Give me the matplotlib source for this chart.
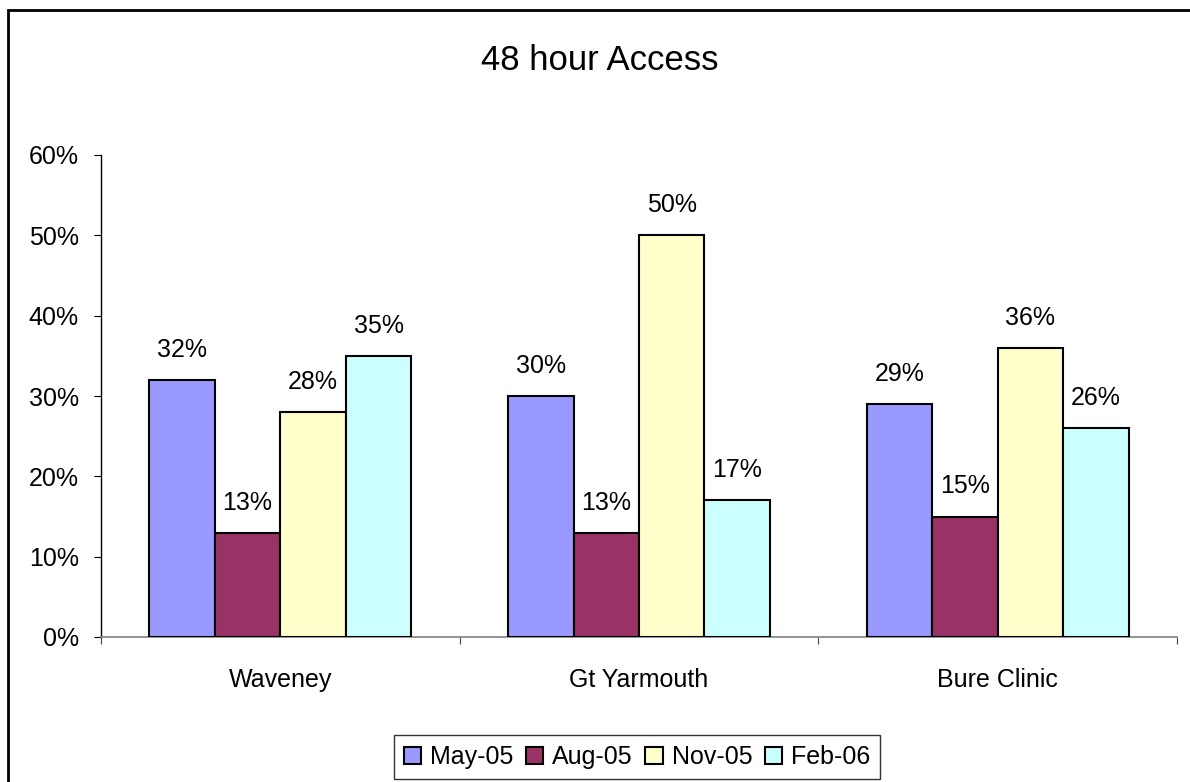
import numpy as np
import matplotlib
matplotlib.use('Agg')
import matplotlib.pyplot as plt
from matplotlib.patches import Rectangle

plt.rcParams['font.family'] = ['Liberation Sans', 'DejaVu Sans']

categories = ['Waveney', 'Gt Yarmouth', 'Bure Clinic']
series = ['May-05', 'Aug-05', 'Nov-05', 'Feb-06']
values = [
    [32, 30, 29],   # May-05
    [13, 13, 15],   # Aug-05
    [28, 50, 36],   # Nov-05
    [35, 17, 26],   # Feb-06
]
colors = ['#9999FF', '#993366', '#FFFFCC', '#CCFFFF']
yticks = [0, 10, 20, 30, 40, 50, 60]

fig = plt.figure(figsize=(11.9, 7.82), dpi=100)
W, H = 1190, 782
ax = fig.add_axes([101 / W, 1 - 637 / H, (1177 - 101) / W, (637 - 155) / H])

# outer chart border (only top and left are in frame)
fig.patches.append(Rectangle((8 / W, -0.1), 1.2, 1 - 10 / H + 0.1, transform=fig.transFigure,
                             fill=False, edgecolor='black', linewidth=2))

fs = 18
x = np.arange(len(categories))
w = 0.1826
for i, (name, vals, c) in enumerate(zip(series, values, colors)):
    pos = x + (i - 1.5) * w
    ax.bar(pos, vals, width=w, color=c, edgecolor='black', linewidth=1.5, label=name, zorder=3)
    for p, v in zip(pos, vals):
        ax.annotate(f'{v}%', (p, v), xytext=(0, 13), textcoords='offset points',
                    ha='center', va='bottom', fontsize=fs)

ax.set_xlim(-0.5, 2.5)
ax.set_ylim(0, 60)
ax.set_yticks(yticks)
ax.set_yticklabels([f'{t}%' for t in yticks], fontsize=fs)
ax.set_xticks([-0.5, 0.5, 1.5, 2.5])
ax.set_xticklabels([])
ax.set_xticks(x, minor=True)
ax.set_xticklabels(categories, minor=True, fontsize=fs)
ax.tick_params(axis='x', which='minor', length=0, pad=22)
ax.tick_params(axis='x', which='major', length=5, color='#444444', direction='out')
ax.tick_params(axis='y', length=5, direction='out', pad=11)

ax.spines['top'].set_visible(False)
ax.spines['right'].set_visible(False)
ax.spines['bottom'].set_color('#808080')
ax.spines['bottom'].set_linewidth(1.2)
ax.spines['left'].set_linewidth(1.0)

fig.text(600 / W, 1 - 60 / H, '48 hour Access', ha='center', va='center', fontsize=25)

leg = fig.legend(loc='center', bbox_to_anchor=(637 / W, 1 - 757 / H), ncol=4, fontsize=fs,
                 frameon=True, fancybox=False, edgecolor='black', handlelength=0.7,
                 handleheight=0.7, handletextpad=0.35, columnspacing=0.5, borderpad=0.4)
leg.get_frame().set_linewidth(1.0)

plt.savefig('out.png', dpi=100)
plt.close()
